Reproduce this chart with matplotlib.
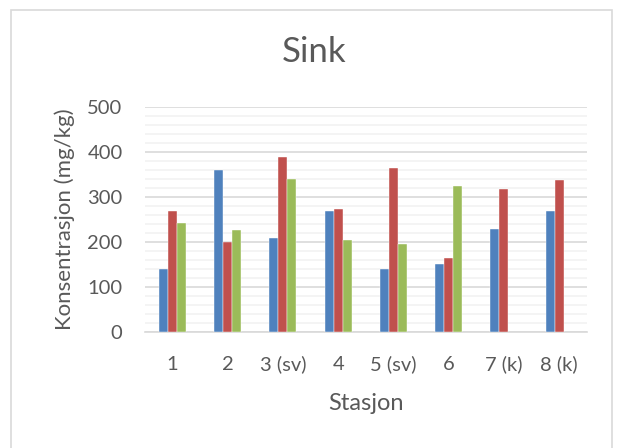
import matplotlib.pyplot as plt
import matplotlib.patches as mpatches
from matplotlib.ticker import MultipleLocator
import numpy as np

stations = ['1', '2', '3 (sv)', '4', '5 (sv)', '6', '7 (k)', '8 (k)']
series_a = [140, 360, 209, 268, 140, 150, 229, 268]
series_b = [268, 201, 389, 274, 365, 164, 318, 338]
series_c = [242, 226, 340, 204, 195, 324, np.nan, np.nan]

colors = ['#4F81BD', '#C0504D', '#9BBB59']
text_color = '#595959'

plt.rcParams['font.family'] = ['Lato', 'DejaVu Sans']

fig = plt.figure(figsize=(6.19, 4.48), dpi=100)
ax = fig.add_axes([0.234, 0.259, 0.714, 0.502])

# chart border
fig.patches.append(mpatches.Rectangle((0.018, -0.01), 0.971, 0.988, transform=fig.transFigure,
                                      fill=False, edgecolor='#D9D9D9', lw=1.2))

x = np.arange(len(stations))
w = 0.163
for i, (vals, c) in enumerate(zip([series_a, series_b, series_c], colors)):
    ax.bar(x + (i - 1) * w, vals, width=w, color=c, edgecolor='white', linewidth=0.3, zorder=3)

ax.set_xlim(-0.5, len(stations) - 0.5)
ax.set_ylim(0, 500)
ax.yaxis.set_major_locator(MultipleLocator(100))
ax.yaxis.set_minor_locator(MultipleLocator(20))
ax.grid(axis='y', which='major', color='#D9D9D9', lw=1.2, zorder=1)
ax.grid(axis='y', which='minor', color='#F2F2F2', lw=1.2, zorder=0)
ax.set_axisbelow(True)

for s in ['top', 'right', 'left']:
    ax.spines[s].set_visible(False)
ax.spines['bottom'].set_color('#D9D9D9')
ax.spines['bottom'].set_linewidth(1.2)

ax.set_xticks(x)
ax.set_xticklabels(stations)
ax.tick_params(axis='both', which='both', length=0, labelsize=14.5, colors=text_color)
ax.tick_params(axis='x', pad=17)
ax.tick_params(axis='y', pad=16)

fig.text(366 / 619, 1 - 403 / 448, 'Stasjon', ha='center', va='center', fontsize=17, color=text_color)
fig.text(65 / 619, 1 - 219 / 448, 'Konsentrasjon (mg/kg)', ha='center', va='center',
         rotation=90, fontsize=16, color=text_color)
fig.text(314 / 619, 1 - 52 / 448, 'Sink', ha='center', va='center', fontsize=25, color=text_color)

fig.savefig('out.png', dpi=100)
